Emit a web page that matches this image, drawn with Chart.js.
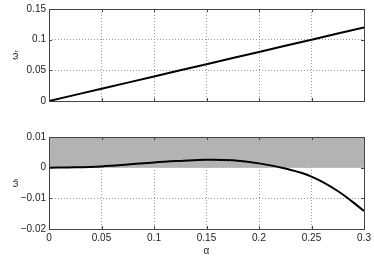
<!DOCTYPE html>
<html>
<head>
<meta charset="utf-8">
<script src="https://cdn.jsdelivr.net/npm/chart.js@4.4.0/dist/chart.umd.min.js"></script>
<style>
  body { margin: 0; background: #fff; }
  .box { position: absolute; left: 0; width: 374px; }
  #top { top: 0; height: 110px; }
  #bot { top: 128px; height: 129px; }
</style>
</head>
<body>
<div class="box" id="top"><canvas id="c1"></canvas></div>
<div class="box" id="bot"><canvas id="c2"></canvas></div>
<script>
const alpha = [0, 0.025, 0.05, 0.075, 0.1, 0.125, 0.15, 0.175, 0.2, 0.225, 0.25, 0.275, 0.3];
const omegaR = [0, 0.01, 0.02, 0.03, 0.04, 0.05, 0.06, 0.07, 0.08, 0.09, 0.10, 0.11, 0.12];
const omegaI = [0, 0.0001, 0.0004, 0.0010, 0.0017, 0.0022, 0.0026, 0.0024, 0.0014, -0.0003, -0.0029, -0.0076, -0.0141];
const band = [0.01, 0.01];   // shaded region from 0 up to 0.01
const bandX = [0, 0.3];
const xTicks = [0, 0.05, 0.1, 0.15, 0.2, 0.25, 0.3];

const FONT = 'Liberation Sans';

function fmt(v) {
  let s = String(Math.round(v * 1000) / 1000);
  return s.replace('-', '\u2212');
}

// frame + inward tick marks like matlab
const boxPlugin = {
  id: 'box',
  afterDraw(chart) {
    const ctx = chart.ctx, a = chart.chartArea;
    const xs = chart.scales.x, ys = chart.scales.y;
    ctx.save();
    ctx.strokeStyle = '#444';
    ctx.lineWidth = 1;
    ctx.strokeRect(Math.round(a.left) + 0.5, Math.round(a.top) + 0.5,
      Math.round(a.right - a.left), Math.round(a.bottom - a.top));
    ctx.beginPath();
    xs.ticks.forEach(t => {
      const p = Math.round(xs.getPixelForValue(t.value)) + 0.5;
      ctx.moveTo(p, a.bottom); ctx.lineTo(p, a.bottom - 3);
      ctx.moveTo(p, a.top); ctx.lineTo(p, a.top + 3);
    });
    ys.ticks.forEach(t => {
      const p = Math.round(ys.getPixelForValue(t.value)) + 0.5;
      ctx.moveTo(a.left, p); ctx.lineTo(a.left + 3, p);
      ctx.moveTo(a.right, p); ctx.lineTo(a.right - 3, p);
    });
    ctx.stroke();
    ctx.restore();
  }
};

function makeOpts(ymin, ymax, yStep, yTitle, showX) {
  return {
    responsive: true,
    maintainAspectRatio: false,
    animation: false,
    layout: { padding: { top: 9, right: 10, left: 0, bottom: 0 } },
    plugins: { legend: { display: false }, tooltip: { enabled: false } },
    scales: {
      x: {
        type: 'linear', min: 0, max: 0.3,
        afterBuildTicks: s => { s.ticks = xTicks.map(v => ({ value: v })); },
        afterFit: s => { s.height = showX ? 28 : 9; },
        border: { display: false, dash: [1, 2] },
        grid: { color: '#999', lineWidth: 1, drawTicks: false },
        ticks: {
          display: showX, padding: 3, maxRotation: 0,
          color: '#222', font: { family: FONT, size: 10 },
          callback: v => fmt(v)
        },
        title: {
          display: showX, text: '\u03b1', color: '#222', padding: 0,
          font: { family: FONT, size: 10 }
        }
      },
      y: {
        min: ymin, max: ymax,
        afterBuildTicks: s => {
          const arr = [];
          for (let v = ymin; v <= ymax + 1e-9; v += yStep) arr.push({ value: Math.round(v * 1000) / 1000 });
          s.ticks = arr;
        },
        afterFit: s => { s.width = 49; },
        border: { display: false, dash: [1, 2] },
        grid: { color: '#999', lineWidth: 1, drawTicks: false },
        ticks: {
          padding: 3, color: '#222', font: { family: FONT, size: 10 },
          callback: v => fmt(v)
        },
        title: {
          display: true, text: yTitle, color: '#222', padding: { top: 10, bottom: 8 },
          font: { family: 'DejaVu Sans', size: 9 }
        }
      }
    }
  };
}

new Chart(document.getElementById('c1'), {
  type: 'line',
  data: {
    datasets: [{
      data: alpha.map((a, i) => ({ x: a, y: omegaR[i] })),
      borderColor: '#000', borderWidth: 2, pointRadius: 0, fill: false
    }]
  },
  options: makeOpts(0, 0.15, 0.05, '\u03c9\u1d63', false),
  plugins: [boxPlugin]
});

new Chart(document.getElementById('c2'), {
  type: 'line',
  data: {
    datasets: [{
      data: alpha.map((a, i) => ({ x: a, y: omegaI[i] })),
      borderColor: '#000', borderWidth: 2, pointRadius: 0, fill: false,
      tension: 0.4, order: 0
    }, {
      data: bandX.map((a, i) => ({ x: a, y: band[i] })),
      borderColor: '#555', borderWidth: 1, pointRadius: 0,
      backgroundColor: '#b3b3b3', fill: { value: 0 }, order: 1
    }]
  },
  options: makeOpts(-0.02, 0.01, 0.01, '\u03c9\u1d62', true),
  plugins: [boxPlugin]
});
</script>
</body>
</html>
